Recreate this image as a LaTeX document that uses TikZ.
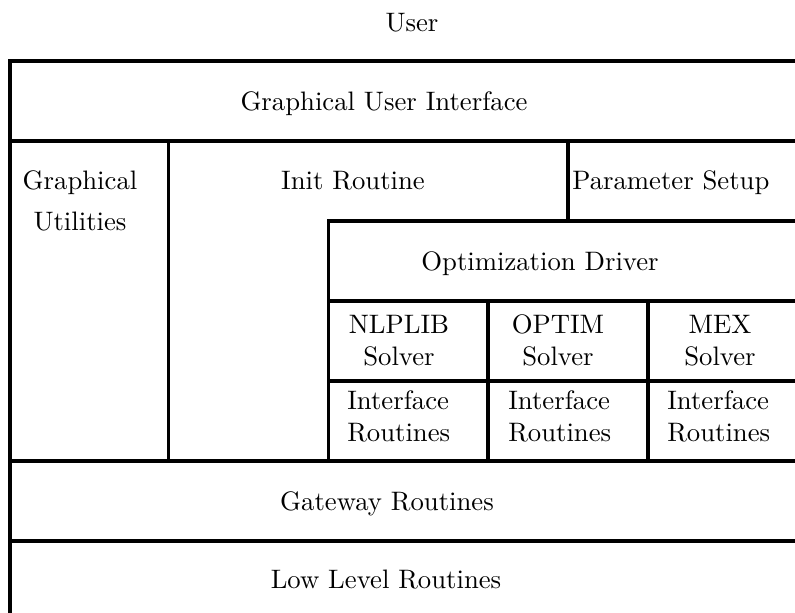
\documentclass[tikz,border=0pt]{standalone}
\usepackage{fontspec}
\setmainfont{lmroman10-regular.otf}

\begin{document}
\begin{tikzpicture}
[boxLine/.style={line width=2.2pt,line cap=rect},%
  heavyLine/.style={line width=2.9pt},%
  layerText/.style={font=\fontsize{19}{22.8}\selectfont,inner sep=0pt,anchor=base,align=center}]
\useasboundingbox (0,0) rectangle (19.875,15.325);
\clip (0,0) rectangle (19.875,15.325);
%% horizontal lines
\foreach \y/\xstart in {13.8/0.25, 11.8/0.25, 9.8/8.22, 7.8/8.22, 3.8/0.25, 1.8/0.25}
{
  \draw[boxLine] (\xstart,\y) -- (20,\y);
}
\draw[heavyLine] (8.22,5.8) -- (20,5.8);
%% vertical lines
\foreach \x/\ytop/\ybot in {
  0.25/13.8/-0.5, 4.22/11.8/3.8, 8.22/9.8/3.8,
  14.2/11.8/9.8, 12.2/7.8/3.8, 16.2/7.8/3.8}
{
  \draw[boxLine] (\x,\ytop) -- (\x,\ybot);
}
%% layer texts
\node (user) at (10.3,14.525) [layerText] {User};
\node (gui) at (9.6,12.55) [layerText] {Graphical User Interface};
\node (gutil) at (2.0,10.575) [layerText] {Graphical};
\node (gutil2) at (2.0,9.55) [layerText] {Utilities};
\node (init) at (8.825,10.575) [layerText] {Init Routine};
\node (param) at (14.3,10.575) [layerText,anchor=base west] {Parameter Setup};
\node (optdrv) at (13.5,8.55) [layerText] {Optimization Driver};
\foreach \nodename/\x/\solver in {nlplib/9.975/NLPLIB, optim/13.95/OPTIM, mex/18.0/MEX}
{
  \node (\nodename) at (\x,6.175) [layerText] {\solver\\Solver};
}
\foreach \nodename/\x in {ifnlp/8.675, ifoptim/12.7, ifmex/16.675}
{
  \node (\nodename) at (\x,4.275) [layerText,anchor=base west,align=left] {Interface\\Routines};
}
\node (gateway) at (9.675,2.55) [layerText] {Gateway Routines};
\node (lowlevel) at (9.65,0.6) [layerText] {Low Level Routines};
\end{tikzpicture}
\end{document}
